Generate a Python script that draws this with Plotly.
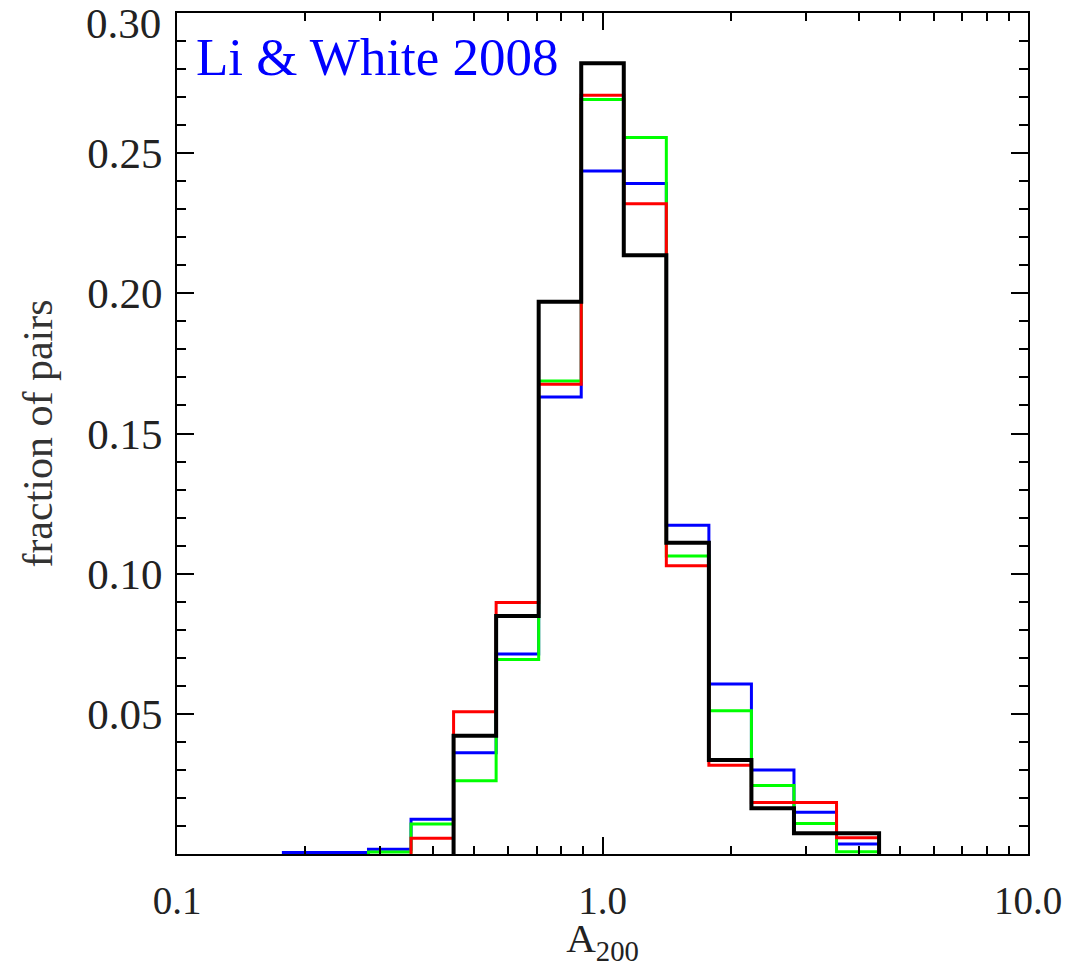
import numpy as np
import plotly.graph_objects as go

# Histogram bins: centres in log10(A200), width 0.1 dex
bin_centres_log = [-0.7, -0.6, -0.5, -0.4, -0.3, -0.2, -0.1, 0.0, 0.1, 0.2, 0.3, 0.4, 0.5, 0.6]

# Fraction of pairs per bin for each sample (None = empty bin, no line drawn)
blue_frac = [0.0005, 0.0005, 0.0017, 0.0124, 0.0361, 0.0713, 0.1630, 0.2436, 0.2392, 0.1173, 0.0606, 0.0300, 0.0149, 0.0036]
green_frac = [None, None, 0.0007, 0.0107, 0.0261, 0.0694, 0.1687, 0.2691, 0.2556, 0.1063, 0.0511, 0.0244, 0.0109, 0.0008]
red_frac = [None, None, None, 0.0056, 0.0507, 0.0897, 0.1676, 0.2707, 0.2320, 0.1028, 0.0317, 0.0184, 0.0184, 0.0058]
black_frac = [None, None, None, None, 0.0422, 0.0849, 0.1970, 0.2821, 0.2136, 0.1110, 0.0335, 0.0163, 0.0074, 0.0074]

y_tick_vals = [0.05, 0.10, 0.15, 0.20, 0.25]
y_tick_text = ["0.05", "0.10", "0.15", "0.20", "0.25"]
y_top_val = 0.30
y_top_text = "0.30"
x_tick_vals = [0.1, 1.0, 10.0]
x_tick_text = ["0.1", "1.0", "10.0"]

HALF = 0.05


def step_outline(centres, fracs):
    """Histogram outline: rise from zero at the first filled bin, fall back at the last."""
    pairs = [(c, f) for c, f in zip(centres, fracs) if f is not None]
    lo = [10 ** (c - HALF) for c, _ in pairs]
    hi_last = 10 ** (pairs[-1][0] + HALF)
    xs = [lo[0]] + lo + [hi_last]
    ys = [0.0] + [f for _, f in pairs] + [0.0]
    return xs, ys


fig = go.Figure()
series = [
    (blue_frac, "#0000ff", 3),
    (green_frac, "#00ff00", 3),
    (red_frac, "#ff0000", 3),
    (black_frac, "#000000", 4),
]
for fracs, colour, width in series:
    xs, ys = step_outline(bin_centres_log, fracs)
    fig.add_trace(go.Scatter(
        x=xs, y=ys, mode="lines",
        line=dict(color=colour, width=width, shape="hv"),
        showlegend=False, hoverinfo="skip",
    ))

serif = "Liberation Serif"
label_col = "#222222"
x_minor = [m * 10.0 ** e for e in (-1, 0) for m in range(2, 10)]
y_minor = [round(0.01 * i, 2) for i in range(1, 30) if i % 5 != 0]

fig.add_annotation(
    text="Li & White 2008", xref="paper", yref="paper", x=0.02, y=0.985,
    xanchor="left", yanchor="top", showarrow=False,
    font=dict(family=serif, size=53, color="#0000ff"),
)
# top tick label sits just inside the frame's upper edge
fig.add_annotation(
    text=y_top_text, xref="paper", yref="y", x=0, y=y_top_val,
    xanchor="right", yanchor="top", xshift=-14, yshift=15, showarrow=False,
    font=dict(family=serif, size=43, color=label_col),
)

fig.update_layout(
    width=1069, height=967,
    margin=dict(l=177, r=41, t=13, b=113, autoexpand=False),
    paper_bgcolor="white", plot_bgcolor="white",
    font=dict(family=serif, color="#333333"),
)
fig.update_xaxes(
    type="log", range=[-1, 1], automargin=False,
    tickmode="array", tickvals=x_tick_vals, ticktext=x_tick_text,
    ticks="inside", ticklen=17, tickwidth=2, tickcolor="black",
    minor=dict(tickmode="array", tickvals=x_minor, ticks="inside", ticklen=8,
               tickwidth=2, tickcolor="black"),
    showline=True, linecolor="black", linewidth=2, mirror="ticks",
    showgrid=False, zeroline=False,
    ticklabelstandoff=11,
    tickfont=dict(family=serif, size=39, color=label_col),
    title=dict(text="A<sub>200</sub>", font=dict(family=serif, size=41, color=label_col), standoff=5),
)
fig.update_yaxes(
    range=[0, 0.30], automargin=False,
    tickmode="array", tickvals=y_tick_vals, ticktext=y_tick_text,
    ticks="inside", ticklen=17, tickwidth=2, tickcolor="black",
    minor=dict(tickmode="array", tickvals=y_minor, ticks="inside", ticklen=9,
               tickwidth=2, tickcolor="black"),
    showline=True, linecolor="black", linewidth=2, mirror="ticks",
    showgrid=False, zeroline=False,
    ticklabelstandoff=4,
    tickfont=dict(family=serif, size=43, color=label_col),
    title=dict(text="fraction of pairs", font=dict(family=serif, size=42, color="#333333"), standoff=21),
)

fig.write_html("out.html")
